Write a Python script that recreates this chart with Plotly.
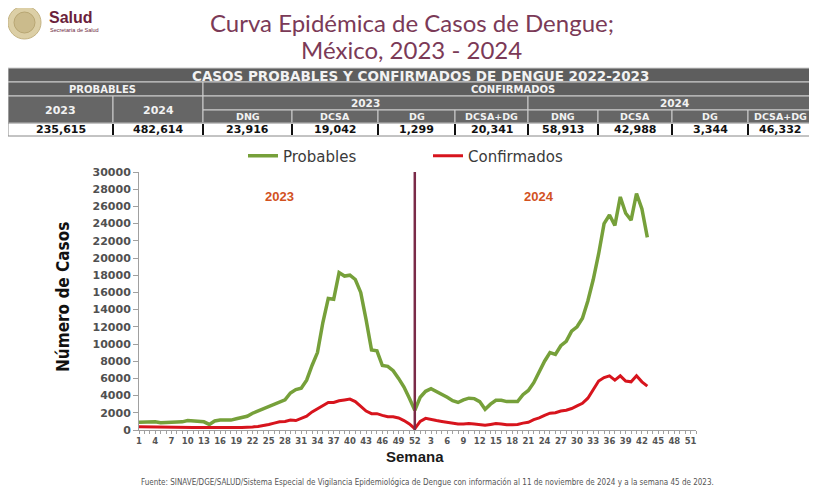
import plotly.graph_objects as go

# ---------------- data ----------------
WEEKS_2023 = list(range(1, 53))
WEEKS_2024 = list(range(1, 53))

PROBABLES_2023 = [900, 950, 900, 950, 850, 850, 900, 900, 950, 1100,
                  1050, 950, 950, 650, 1050, 1150, 1100, 1150, 1300, 1400,
                  1600, 1950, 2200, 2500, 2750, 3000, 3300, 3500, 4300, 4700,
                  4850, 5800, 7500, 9000, 12500, 15300, 15200, 18300, 17900, 18000,
                  17500, 16000, 12800, 9300, 9200, 7500, 7400, 6900, 6000, 5000,
                  3700, 2300]
PROBABLES_2024 = [3800, 4500, 4800, 4500, 4100, 3800, 3400, 3200, 3500, 3700,
                  3650, 3300, 2400, 3000, 3450, 3450, 3300, 3300, 3300, 4100,
                  4600, 5500, 6800, 8000, 9000, 8800, 9800, 10300, 11500, 12000,
                  13000, 15000, 17500, 20500, 24000, 25000, 23800, 27100, 25200, 24400,
                  27500, 25700, 22400]
CONFIRMADOS_2023 = [380, 380, 370, 360, 350, 340, 330, 320, 320, 310,
                    300, 290, 280, 270, 260, 250, 250, 260, 280, 300,
                    300, 350, 420, 500, 650, 800, 950, 1000, 1150, 1100,
                    1350, 1600, 2100, 2500, 2800, 3200, 3200, 3400, 3500, 3600,
                    3300, 2700, 2200, 1900, 1900, 1700, 1550, 1550, 1400, 1100,
                    700, 150]
CONFIRMADOS_2024 = [1000, 1350, 1200, 1100, 1000, 900, 800, 700, 700, 750,
                    700, 650, 550, 650, 750, 700, 600, 600, 650, 800,
                    900, 1200, 1400, 1700, 1950, 2000, 2200, 2300, 2500, 2800,
                    3100, 3700, 4700, 5700, 6100, 6300, 5800, 6300, 5700, 5600,
                    6300, 5600, 5100]

SERIES_NAMES = ["Probables", "Confirmados"]
YEAR_LABELS = ["2023", "2024"]
Y_TICKS = [0, 2000, 4000, 6000, 8000, 10000, 12000, 14000, 16000, 18000,
           20000, 22000, 24000, 26000, 28000, 30000]
DIVIDER_WEEK_INDEX = 51   # semana 52 de 2023

TITLE_1 = "Curva Epidémica de Casos de Dengue;"
TITLE_2 = "México, 2023 - 2024"
Y_TITLE = "Número de Casos"
X_TITLE = "Semana"
SOURCE = ("Fuente: SINAVE/DGE/SALUD/Sistema Especial de Vigilancia Epidemiológica de Dengue "
          "con información al 11 de noviembre de 2024 y a la semana 45 de 2023.")

TABLE_TITLE = "CASOS PROBABLES Y CONFIRMADOS DE DENGUE 2022-2023"
PROB_HEADER = "PROBABLES"
CONF_HEADER = "CONFIRMADOS"
PROB_YEARS = ["2023", "2024"]
PROB_VALUES = ["235,615", "482,614"]
CONF_YEARS = ["2023", "2024"]
CONF_SUB = ["DNG", "DCSA", "DG", "DCSA+DG"]
CONF_2023 = ["23,916", "19,042", "1,299", "20,341"]
CONF_2024 = ["58,913", "42,988", "3,344", "46,332"]

# ---------------- build ----------------
all_weeks = WEEKS_2023 + WEEKS_2024
x_idx = list(range(len(all_weeks)))
prob = PROBABLES_2023 + PROBABLES_2024
conf = CONFIRMADOS_2023 + CONFIRMADOS_2024

GREEN = "#76a03a"
RED = "#d7141d"
MAROON = "#7a2a48"

fig = go.Figure()
fig.add_trace(go.Scatter(x=x_idx[:len(prob)], y=prob, mode="lines", name=SERIES_NAMES[0],
                         line=dict(color=GREEN, width=3.5)))
fig.add_trace(go.Scatter(x=x_idx[:len(conf)], y=conf, mode="lines", name=SERIES_NAMES[1],
                         line=dict(color=RED, width=3)))

# page body has an 8px margin; the figure is sized to fit the window
OFF = 8
FIG_W, FIG_H = 817 - OFF, 491 - OFF
L, R, T, B = 139 - OFF, 121, 172 - OFF, 61
W = FIG_W - L - R
H = FIG_H - T - B


def PX(x):  # reference-window pixel -> paper
    return (x - OFF - L) / W


def PY(y):
    return (FIG_H - B - (y - OFF)) / H


shapes = []
ann = []

# divider line
shapes.append(dict(type="line", xref="x", yref="y", x0=DIVIDER_WEEK_INDEX, x1=DIVIDER_WEEK_INDEX,
                   y0=0, y1=Y_TICKS[-1], line=dict(color=MAROON, width=2.5)))

# ---------- table ----------
HDR = "#5e5e5e"
HDR2 = "#666666"
TXT = "#f2f2f2"
EDGES = [8, 113, 203, 292, 378, 455, 528, 598, 672, 748, 836]


def rect(x0, x1, y0, y1, fill, line="#cfcfcf", w=1):
    shapes.append(dict(type="rect", xref="paper", yref="paper", x0=PX(x0), x1=PX(x1),
                       y0=PY(y1), y1=PY(y0), fillcolor=fill, line=dict(color=line, width=w)))


def text(x, y, s, size, color=TXT, fam="DejaVu Sans", bold=True, xanchor="center"):
    ann.append(dict(xref="paper", yref="paper", x=PX(x), y=PY(y), text=s, showarrow=False,
                    xanchor=xanchor, yanchor="middle",
                    font=dict(family=fam, size=size, color=color, weight="bold" if bold else "normal")))


def col_center(j):
    c = (EDGES[j] + EDGES[j + 1]) / 2
    return min(c, 780)


rect(8, 836, 68, 82, HDR)
text(420, 75.5, TABLE_TITLE, 13.5)
rect(EDGES[0], EDGES[2], 82, 96, HDR)
rect(EDGES[2], EDGES[-1], 82, 96, HDR)
text(102, 89, PROB_HEADER, 10)
text(513, 89, CONF_HEADER, 10)
for i in range(2):
    rect(EDGES[i], EDGES[i + 1], 96, 123, HDR2)
    text(col_center(i), 110, PROB_YEARS[i], 11)
rect(EDGES[2], EDGES[6], 96, 110, HDR2)
rect(EDGES[6], EDGES[10], 96, 110, HDR2)
text((EDGES[2] + EDGES[6]) / 2, 103, CONF_YEARS[0], 10.5)
text((EDGES[6] + EDGES[10]) / 2 - 8, 103, CONF_YEARS[1], 10.5)
conf_vals = CONF_2023 + CONF_2024
conf_subs = CONF_SUB + CONF_SUB
for j in range(8):
    x0, x1 = EDGES[2 + j], EDGES[3 + j]
    rect(x0, x1, 110, 123, HDR2)
    text(col_center(2 + j), 116.5, conf_subs[j], 9.5)
# values row
rect(8, 836, 123, 136, "white", line="#888888", w=1)
vals = PROB_VALUES + conf_vals
for j in range(10):
    x0 = EDGES[j]
    text(col_center(j), 129.5, vals[j], 11, color="#111111")
    if j > 0:
        shapes.append(dict(type="line", xref="paper", yref="paper", x0=PX(x0), x1=PX(x0),
                           y0=PY(135), y1=PY(124), line=dict(color="#111111", width=2)))

# ---------- header: logo + title ----------
shapes.append(dict(type="circle", xref="paper", yref="paper", x0=PX(8), x1=PX(41),
                   y0=PY(39), y1=PY(6), fillcolor="#dccfa6", line=dict(color="#c4b383", width=1)))
shapes.append(dict(type="circle", xref="paper", yref="paper", x0=PX(14), x1=PX(35),
                   y0=PY(33), y1=PY(12), fillcolor="#cbbb8c", line=dict(color="#b8a673", width=1)))
text(47, 17, "Salud", 16, color="#6b1f3c", fam="Liberation Sans", xanchor="left")
text(48, 30.5, "Secretaría de Salud", 5.5, color="#6b1f3c", fam="Liberation Sans", bold=False,
     xanchor="left")
text(412, 22, TITLE_1, 24, color="#7b3a57", fam="Lato", bold=False)
text(411, 49, TITLE_2, 24, color="#7b3a57", fam="Lato", bold=False)

# ---------- chart labels ----------
ann.append(dict(xref="x", yref="y", x=26, y=27200, text=YEAR_LABELS[0], showarrow=False,
                font=dict(family="Liberation Sans", size=13, color="#d2521f", weight="bold")))
ann.append(dict(xref="x", yref="y", x=74, y=27200, text=YEAR_LABELS[1], showarrow=False,
                font=dict(family="Liberation Sans", size=13, color="#d2521f", weight="bold")))
ann.append(dict(xref="paper", yref="paper", x=PX(63), y=PY(297), text=Y_TITLE, textangle=-90,
                showarrow=False, xanchor="center", yanchor="middle",
                font=dict(family="Liberation Sans Narrow, DejaVu Sans Condensed, sans-serif",
                          size=17, color="#111111", weight="bold")))
ann.append(dict(xref="paper", yref="paper", x=PX(415), y=PY(456), text=X_TITLE, showarrow=False,
                xanchor="center", yanchor="middle",
                font=dict(family="Liberation Sans", size=15, color="#1a1a1a", weight="bold")))
ann.append(dict(xref="paper", yref="paper", x=PX(427), y=PY(482), text=SOURCE, showarrow=False,
                xanchor="center", yanchor="middle",
                font=dict(family="Liberation Sans Narrow, DejaVu Sans Condensed, sans-serif",
                          size=8, color="#555555")))

tick_text = [str(w) if i % 3 == 0 else "" for i, w in enumerate(all_weeks)]

fig.update_layout(
    width=FIG_W, height=FIG_H,
    margin=dict(l=L, r=R, t=T, b=B),
    paper_bgcolor="white", plot_bgcolor="white",
    shapes=shapes, annotations=ann,
    legend=dict(orientation="h", x=PX(243), y=PY(156), xanchor="left", yanchor="middle",
                font=dict(family="DejaVu Sans", size=15, color="#3a3a3a"),
                entrywidth=140, entrywidthmode="pixels", itemwidth=30,
                bgcolor="rgba(0,0,0,0)"),
    xaxis=dict(range=[0, len(all_weeks) - 1], tickmode="array", tickvals=x_idx, ticktext=tick_text,
               showgrid=False, zeroline=False, showline=True, linecolor="#a0a0a0", linewidth=1,
               ticks="outside", ticklen=3, tickcolor="#a0a0a0", tickangle=0,
               tickfont=dict(family="DejaVu Sans", size=8.5, color="#555555", weight="bold")),
    yaxis=dict(range=[0, Y_TICKS[-1]], tickmode="array", tickvals=Y_TICKS,
               ticktext=[str(v) for v in Y_TICKS],
               showgrid=False, zeroline=False, showline=True, linecolor="#a0a0a0", linewidth=1,
               ticks="outside", ticklen=5, tickcolor="#a0a0a0",
               tickfont=dict(family="DejaVu Sans", size=11, color="#505050", weight="bold")),
)

fig.write_html("out.html")
